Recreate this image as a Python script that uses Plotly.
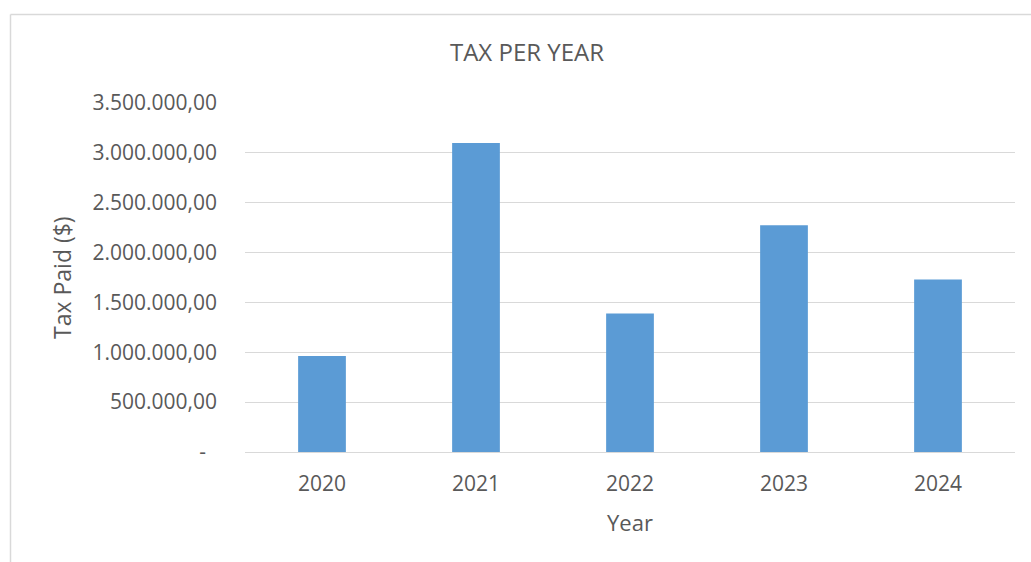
import plotly.graph_objects as go

years = ["2020", "2021", "2022", "2023", "2024"]
tax_paid = [963000, 3100000, 1390000, 2275000, 1730000]
y_tick_vals = [0, 500000, 1000000, 1500000, 2000000, 2500000, 3000000, 3500000]
y_tick_text = ["-\u00a0\u00a0", "500.000,00", "1.000.000,00", "1.500.000,00",
               "2.000.000,00", "2.500.000,00", "3.000.000,00", "3.500.000,00"]

W, H = 1031, 562
L, R, T, B = 245, 16, 103, 110
pw, ph = W - L - R, H - T - B

def px_x(x):
    return (x - L) / pw

def px_y(y):
    return (H - B - y) / ph

FONT = "Open Sans"
GREY = "#595959"

fig = go.Figure(go.Bar(x=years, y=tax_paid, marker=dict(color="#5b9bd5", line=dict(width=0))))

fig.update_layout(
    width=W, height=H,
    margin=dict(l=L, r=R, t=T, b=B),
    paper_bgcolor="white", plot_bgcolor="white",
    bargap=0.69,
    showlegend=False,
    font=dict(family=FONT, color=GREY, size=21),
    title=dict(text="TAX PER YEAR", x=527 / W, y=1 - 53 / H, xref="container", yref="container",
               xanchor="center", yanchor="middle", font=dict(family=FONT, size=24, color=GREY)),
)
fig.update_yaxes(range=[0, 3500000], tickvals=y_tick_vals, ticktext=y_tick_text,
                 showgrid=True, gridcolor="#d9d9d9", gridwidth=1,
                 zeroline=True, zerolinecolor="#d9d9d9", zerolinewidth=1,
                 showline=False, ticks="", ticklabelstandoff=27,
                 tickfont=dict(family=FONT, size=21, color=GREY))
fig.update_xaxes(showgrid=False, showline=False, ticks="", ticklabelstandoff=17,
                 tickfont=dict(family=FONT, size=21, color=GREY))

fig.add_annotation(text="Tax Paid ($)", textangle=-90, x=px_x(62), y=px_y(278),
                   xref="paper", yref="paper", showarrow=False,
                   xanchor="center", yanchor="middle", font=dict(family=FONT, size=23, color=GREY))
fig.add_annotation(text="Year", x=px_x(630), y=px_y(521.7),
                   xref="paper", yref="paper", showarrow=False,
                   xanchor="center", yanchor="middle", font=dict(family=FONT, size=22, color=GREY))

# chart border (left and top edges visible)
fig.add_shape(type="line", xref="paper", yref="paper", x0=px_x(10.5), x1=px_x(10.5),
              y0=px_y(14.5), y1=px_y(600), line=dict(color="#d9d9d9", width=1.5))
fig.add_shape(type="line", xref="paper", yref="paper", x0=px_x(10.5), x1=px_x(1040),
              y0=px_y(14.5), y1=px_y(14.5), line=dict(color="#d9d9d9", width=1.5))

fig.write_html("out.html", config={"displayModeBar": False},
               post_script="document.body.style.margin='0';document.body.style.padding='0';")
